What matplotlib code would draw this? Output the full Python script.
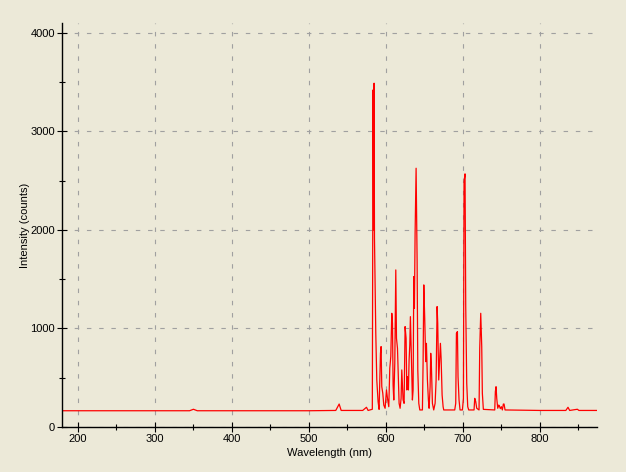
import numpy as np
import matplotlib
matplotlib.use("Agg")
import matplotlib.pyplot as plt
from matplotlib.ticker import MultipleLocator

plt.rcParams['font.family'] = ['Liberation Sans', 'DejaVu Sans']

# spectrum points (wavelength nm, intensity counts)
wavelength = [179.4, 179.6, 200, 250, 300, 345, 350, 355, 400, 450, 500, 535,
              539.4, 542, 570, 574.9, 577, 582.5,
              583.5, 584.2, 584.8, 585.3, 587.0, 588.3, 590.0, 591.3, 593.1, 593.9,
              594.8, 596.1, 597.4, 599.1, 600.9, 602.2, 603.9, 605.2, 606.5, 607.8,
              608.7, 609.5, 610.4, 611.7, 613.0, 613.9, 615.2, 616.5, 617.3, 618.6,
              619.9, 620.8, 622.5, 623.8, 625.1, 626.4, 627.3, 628.1, 629.4, 630.3,
              631.2, 632.0, 633.3, 634.6, 635.5, 636.4, 637.2, 638.1, 639.4, 640.7,
              641.6, 642.9, 644.2, 647.6, 648.5, 649.4, 650.6, 651.9, 652.8, 654.1,
              655.4, 656.3, 657.6, 658.4, 659.3, 660.6, 662.3, 664.1, 665.4, 666.7,
              667.5, 668.8, 671.0, 671.9, 673.2, 674.5, 675.3, 689.6, 690.9, 691.8,
              693.1, 693.9, 695.2, 696.5, 699.6, 700.9, 701.7, 703.0, 703.9, 705.2,
              706.5, 707.8, 714.7, 715.6, 716.9, 718.2, 721.2, 722.1, 723.4, 724.7,
              725.5, 726.8, 741.6, 742.4, 743.3, 744.2, 745.5, 746.8, 747.6, 748.9,
              750.2, 751.5, 752.8, 753.7, 755.0, 800, 834, 836.8, 839, 849, 851, 874]
counts = [0, 165, 165, 165, 165, 165, 180, 165, 165, 165, 165, 168,
          233, 168, 168, 200, 168, 180,
          3421, 2000, 3489, 1915, 951, 477, 257, 179, 748, 816,
          409, 342, 223, 190, 376, 291, 206, 596, 714, 1154,
          1052, 426, 274, 646, 1594, 900, 799, 460, 240, 190,
          291, 579, 274, 240, 1019, 900, 376, 511, 376, 680,
          832, 1120, 680, 274, 376, 1526, 1205, 1966, 2626, 1695,
          579, 240, 173, 173, 663, 1442, 1103, 663, 849, 477,
          274, 190, 409, 748, 613, 240, 173, 240, 477, 1222,
          1052, 477, 849, 697, 325, 206, 173, 173, 240, 951,
          968, 511, 274, 173, 173, 291, 2491, 2569, 1222, 443,
          206, 173, 173, 291, 257, 190, 173, 799, 1154, 816,
          342, 179, 173, 359, 409, 291, 190, 223, 213, 186,
          206, 173, 233, 233, 173, 168, 168, 200, 168, 180, 168, 168]

x_major = [200, 300, 400, 500, 600, 700, 800]
y_major = [0, 1000, 2000, 3000, 4000]

bg = '#ECE9D8'
fig = plt.figure(figsize=(6.26, 4.72), dpi=100, facecolor=bg)
ax = fig.add_axes([62 / 626, 45 / 472, 535 / 626, 404 / 472], facecolor=bg)

ax.plot(wavelength, counts, color='red', lw=0.9)

ax.set_xlim(179.2, 874.5)
ax.set_ylim(0, 4100)
ax.set_xticks(x_major)
ax.set_yticks(y_major)
ax.xaxis.set_minor_locator(MultipleLocator(50))
ax.yaxis.set_minor_locator(MultipleLocator(500))

for s in ['top', 'right']:
    ax.spines[s].set_visible(False)
for s in ['left', 'bottom']:
    ax.spines[s].set_linewidth(1.0)
    ax.spines[s].set_color('black')

ax.tick_params(which='major', direction='inout', length=7, width=0.8,
               labelsize=8, pad=1.5)
ax.tick_params(which='minor', direction='inout', length=5, width=0.8)

ax.grid(True, which='major', color='#A0A0A0', lw=0.8, linestyle=(0, (4, 7)))
ax.set_axisbelow(True)

ax.set_xlabel('Wavelength (nm)', fontsize=8, labelpad=3)
ax.set_ylabel('Intensity (counts)', fontsize=8, labelpad=0)

fig.savefig('out.png', dpi=100, facecolor=bg)
